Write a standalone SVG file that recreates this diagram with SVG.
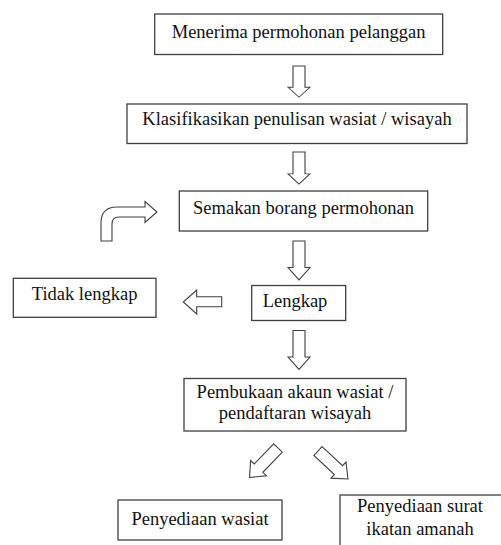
<svg xmlns="http://www.w3.org/2000/svg" width="501" height="545" viewBox="0 0 501 545">
<style>
.box{fill:#fff;stroke:#404040;stroke-width:1.3}
.t{font-family:"Liberation Serif","Times New Roman",serif;font-size:18.5px;fill:#111;text-anchor:middle}
.ar{fill:#fff;stroke:#404040;stroke-width:1.1;stroke-linejoin:miter}
</style>
<defs>
<path id="blk" d="M0,-6 L28,-6 L28,-11 L41,0 L28,11 L28,6 L0,6 Z"/>
</defs>
<rect width="501" height="545" fill="#fff"/>
<g id="connectors">
<use href="#blk" class="ar" transform="translate(299,66) rotate(90) scale(0.76,1)"/>
<use href="#blk" class="ar" transform="translate(299,152) rotate(90) scale(0.78,1)"/>
<use href="#blk" class="ar" transform="translate(299,241) rotate(90) scale(0.95,1)"/>
<use href="#blk" class="ar" transform="translate(299,330.5) rotate(90) scale(0.95,1)"/>
<path class="ar" d="M221.7,296.7 L196.7,296.7 L196.7,290 L183.3,302 L196.7,314 L196.7,306.7 L221.7,306.7 Z"/>
<path class="ar" d="M101,241 L101,223 Q101,207 117,207 L145,207 L145,201.5 L157,212 L145,222.5 L145,217 L119,217 Q112,217 112,224 L112,241 Z"/>
<use href="#blk" class="ar" transform="translate(278,448) rotate(134)"/>
<use href="#blk" class="ar" transform="translate(318,451) rotate(43)"/>
</g>
<g id="n1"><rect class="box" x="154.7" y="14" width="288" height="40.5"/><text class="t" x="298.6" y="38">Menerima permohonan pelanggan</text></g>
<g id="n2"><rect class="box" x="127" y="104" width="340" height="39.5"/><text class="t" x="297" y="125">Klasifikasikan penulisan wasiat / wisayah</text></g>
<g id="n3"><rect class="box" x="179.3" y="191" width="248.4" height="40"/><text class="t" x="303.5" y="214">Semakan borang permohonan</text></g>
<g id="n4"><rect class="box" x="251.7" y="285.5" width="94" height="35"/><text class="t" x="295" y="307">Lengkap</text></g>
<g id="n5"><rect class="box" x="13.3" y="278.3" width="142.7" height="39"/><text class="t" x="84.6" y="300">Tidak lengkap</text></g>
<g id="n6"><rect class="box" x="184" y="378.5" width="222" height="52.5"/><text class="t" x="295" y="398.3">Pembukaan akaun wasiat /</text><text class="t" x="295" y="419.3">pendaftaran wisayah</text></g>
<g id="n7"><rect class="box" x="118" y="500" width="164" height="40"/><text class="t" x="200" y="525">Penyediaan wasiat</text></g>
<g id="n8"><rect class="box" x="340" y="495" width="162" height="55"/><text class="t" x="420" y="512">Penyediaan surat</text><text class="t" x="420" y="535">ikatan amanah</text></g>
</svg>
